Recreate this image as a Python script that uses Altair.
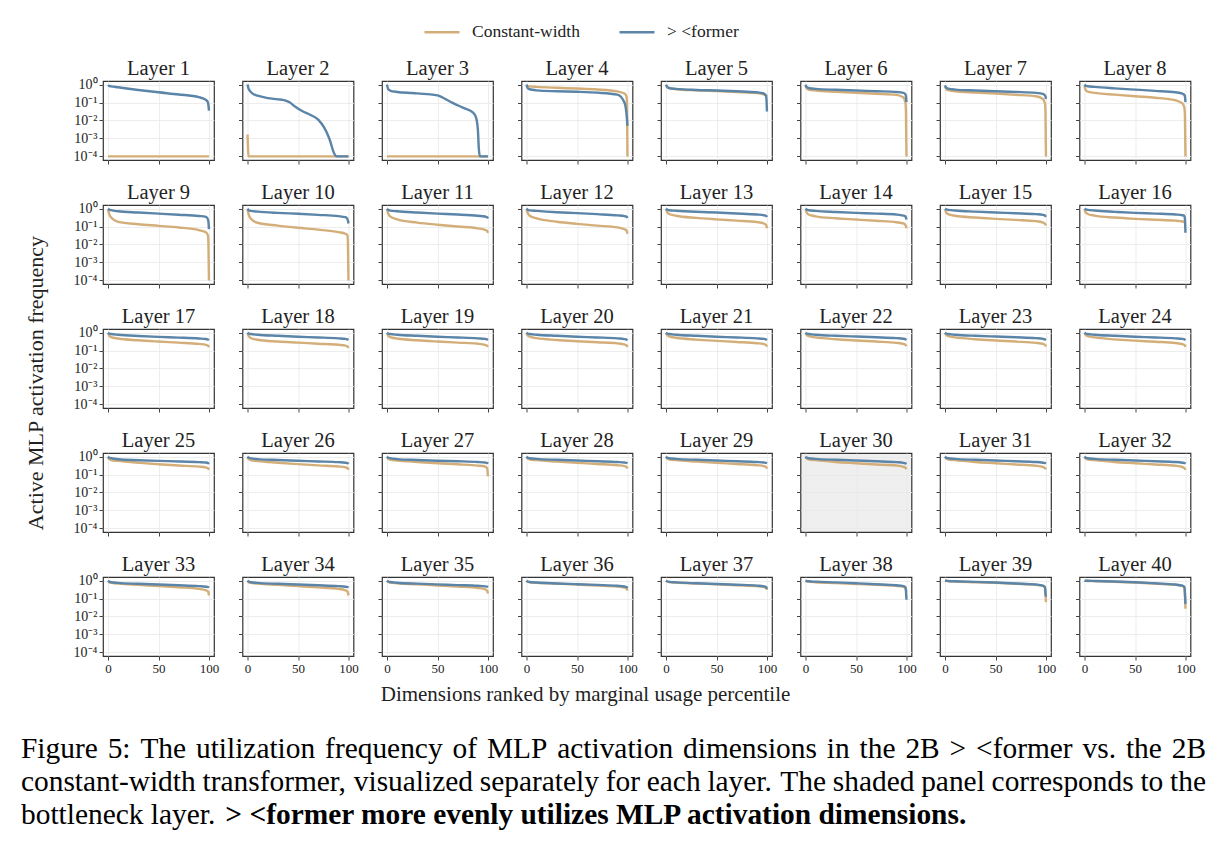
import altair as alt
import pandas as pd

FONT = "Liberation Serif"
SERIES = ["Constant-width", "> <former"]
COLORS = ["#d4ae79", "#5a84a8"]

# Percentile positions at which each ranked-usage curve is sampled
PCT = [0, 1, 3, 10, 30, 50, 70, 90, 97, 99, 99.5, 100]
PCT_BY_LAYER = {
    2: [0, 1, 2, 5, 10, 20, 30, 37, 42, 47, 55, 62, 70, 76, 81, 86, 88, 100],
    3: [0, 1, 3, 10, 25, 40, 50, 55, 65, 75, 85, 88, 90, 91, 92, 100],
}

# log10 of the active-frequency of each ranked MLP dimension (floored at 1e-4)
CONSTANT_WIDTH_LOG10 = {
    1: [-4, -4, -4, -4, -4, -4, -4, -4, -4, -4, -4, -4],
    2: [-2.78, -4, -4, -4, -4, -4, -4, -4, -4, -4, -4, -4, -4, -4, -4, -4, -4, -4],
    3: [-4, -4, -4, -4, -4, -4, -4, -4, -4, -4, -4, -4, -4, -4, -4, -4],
    4: [-0.04, -0.07, -0.1, -0.13, -0.18, -0.22, -0.27, -0.38, -0.5, -0.65, -1.0, -4],
    5: [-0.02, -0.13, -0.2, -0.26, -0.32, -0.36, -0.41, -0.47, -0.55, -0.6, -0.62, -0.65],
    6: [-0.06, -0.2, -0.28, -0.33, -0.4, -0.46, -0.51, -0.57, -0.72, -1.0, -1.5, -4],
    7: [-0.09, -0.23, -0.31, -0.37, -0.44, -0.5, -0.57, -0.65, -0.8, -1.05, -1.5, -4],
    8: [-0.06, -0.3, -0.39, -0.46, -0.56, -0.65, -0.73, -0.87, -1.05, -1.3, -1.8, -4],
    9: [-0.06, -0.28, -0.5, -0.74, -0.87, -0.96, -1.05, -1.2, -1.32, -1.5, -2.0, -4],
    10: [-0.06, -0.3, -0.55, -0.79, -0.95, -1.07, -1.17, -1.31, -1.4, -1.48, -2.0, -4],
    11: [-0.05, -0.25, -0.43, -0.6, -0.78, -0.9, -1.0, -1.1, -1.18, -1.24, -1.28, -1.35],
    12: [-0.05, -0.22, -0.4, -0.55, -0.73, -0.85, -0.95, -1.05, -1.15, -1.22, -1.27, -1.4],
    13: [-0.05, -0.18, -0.3, -0.4, -0.52, -0.6, -0.67, -0.75, -0.83, -0.9, -0.97, -1.1],
    14: [-0.06, -0.2, -0.33, -0.43, -0.54, -0.61, -0.68, -0.76, -0.83, -0.92, -0.98, -1.09],
    15: [-0.06, -0.2, -0.31, -0.4, -0.5, -0.57, -0.63, -0.7, -0.78, -0.85, -0.89, -0.94],
    16: [-0.06, -0.2, -0.3, -0.39, -0.5, -0.57, -0.62, -0.67, -0.72, -0.75, -0.77, -0.78],
    17: [-0.04, -0.15, -0.25, -0.33, -0.43, -0.5, -0.56, -0.63, -0.68, -0.73, -0.76, -0.82],
    18: [-0.04, -0.18, -0.3, -0.4, -0.5, -0.56, -0.62, -0.68, -0.73, -0.78, -0.8, -0.85],
    19: [-0.04, -0.15, -0.25, -0.33, -0.43, -0.5, -0.56, -0.62, -0.68, -0.73, -0.76, -0.8],
    20: [-0.04, -0.14, -0.23, -0.31, -0.41, -0.48, -0.54, -0.6, -0.66, -0.71, -0.74, -0.8],
    21: [-0.03, -0.13, -0.21, -0.29, -0.39, -0.46, -0.52, -0.59, -0.64, -0.69, -0.72, -0.78],
    22: [-0.03, -0.12, -0.2, -0.27, -0.37, -0.44, -0.5, -0.57, -0.63, -0.68, -0.71, -0.76],
    23: [-0.03, -0.12, -0.2, -0.27, -0.37, -0.44, -0.5, -0.57, -0.63, -0.69, -0.72, -0.78],
    24: [-0.03, -0.12, -0.2, -0.27, -0.38, -0.45, -0.51, -0.58, -0.64, -0.7, -0.73, -0.8],
    25: [-0.04, -0.13, -0.19, -0.24, -0.34, -0.43, -0.5, -0.56, -0.61, -0.65, -0.68, -0.74],
    26: [-0.04, -0.13, -0.19, -0.25, -0.34, -0.42, -0.49, -0.55, -0.6, -0.64, -0.67, -0.74],
    27: [-0.03, -0.11, -0.17, -0.22, -0.3, -0.37, -0.43, -0.5, -0.55, -0.62, -0.75, -1.1],
    28: [-0.03, -0.1, -0.15, -0.2, -0.28, -0.35, -0.41, -0.48, -0.53, -0.58, -0.61, -0.66],
    29: [-0.03, -0.1, -0.15, -0.2, -0.28, -0.35, -0.41, -0.48, -0.53, -0.58, -0.61, -0.67],
    30: [-0.02, -0.1, -0.15, -0.2, -0.3, -0.37, -0.44, -0.5, -0.57, -0.62, -0.65, -0.7],
    31: [-0.02, -0.1, -0.15, -0.2, -0.3, -0.37, -0.44, -0.51, -0.58, -0.64, -0.67, -0.72],
    32: [-0.02, -0.1, -0.15, -0.2, -0.3, -0.37, -0.44, -0.51, -0.58, -0.65, -0.68, -0.74],
    33: [-0.02, -0.08, -0.13, -0.17, -0.24, -0.3, -0.37, -0.46, -0.54, -0.61, -0.66, -0.83],
    34: [-0.02, -0.08, -0.13, -0.17, -0.24, -0.31, -0.38, -0.46, -0.54, -0.61, -0.67, -0.83],
    35: [-0.02, -0.07, -0.11, -0.15, -0.21, -0.27, -0.33, -0.41, -0.48, -0.55, -0.6, -0.72],
    36: [-0.01, -0.06, -0.09, -0.12, -0.17, -0.22, -0.27, -0.33, -0.39, -0.44, -0.48, -0.56],
    37: [-0.01, -0.05, -0.08, -0.11, -0.16, -0.21, -0.26, -0.31, -0.36, -0.41, -0.44, -0.52],
    38: [-0.02, -0.04, -0.06, -0.09, -0.14, -0.19, -0.24, -0.3, -0.35, -0.4, -0.5, -0.58],
    39: [0, -0.01, -0.03, -0.05, -0.09, -0.13, -0.18, -0.24, -0.3, -0.39, -0.7, -1.2],
    40: [0, -0.01, -0.02, -0.03, -0.07, -0.11, -0.17, -0.24, -0.3, -0.39, -0.74, -1.57],
}

FORMER_LOG10 = {
    1: [-0.02, -0.07, -0.1, -0.15, -0.3, -0.43, -0.55, -0.7, -0.85, -1.0, -1.15, -1.45],
    2: [0, -0.22, -0.32, -0.5, -0.62, -0.75, -0.82, -0.88, -1.0, -1.22, -1.5, -1.68, -1.95, -2.4, -3.0, -3.85, -4, -4],
    3: [0, -0.24, -0.33, -0.41, -0.47, -0.53, -0.6, -0.72, -1.02, -1.28, -1.55, -1.8, -2.5, -3.6, -4, -4],
    4: [0, -0.18, -0.26, -0.32, -0.37, -0.4, -0.45, -0.56, -1.0, -1.6, -1.9, -2.3],
    5: [0, -0.12, -0.19, -0.24, -0.3, -0.33, -0.37, -0.43, -0.5, -0.62, -0.8, -1.5],
    6: [0, -0.13, -0.19, -0.24, -0.29, -0.33, -0.37, -0.41, -0.46, -0.55, -0.65, -0.98],
    7: [-0.04, -0.16, -0.22, -0.28, -0.33, -0.37, -0.41, -0.46, -0.52, -0.6, -0.66, -0.8],
    8: [0, -0.06, -0.09, -0.13, -0.21, -0.28, -0.35, -0.43, -0.5, -0.58, -0.66, -0.98],
    9: [0, -0.05, -0.09, -0.15, -0.22, -0.28, -0.34, -0.41, -0.46, -0.6, -0.75, -1.14],
    10: [0, -0.08, -0.13, -0.17, -0.24, -0.29, -0.35, -0.42, -0.48, -0.58, -0.68, -0.83],
    11: [0, -0.07, -0.11, -0.15, -0.22, -0.28, -0.33, -0.4, -0.44, -0.48, -0.5, -0.55],
    12: [0, -0.06, -0.1, -0.13, -0.2, -0.25, -0.31, -0.38, -0.42, -0.45, -0.47, -0.52],
    13: [0, -0.06, -0.09, -0.12, -0.18, -0.22, -0.27, -0.33, -0.37, -0.4, -0.42, -0.47],
    14: [0, -0.05, -0.09, -0.13, -0.19, -0.24, -0.28, -0.33, -0.39, -0.44, -0.5, -0.61],
    15: [0, -0.04, -0.07, -0.11, -0.17, -0.22, -0.26, -0.31, -0.35, -0.39, -0.42, -0.46],
    16: [0, -0.04, -0.07, -0.11, -0.18, -0.24, -0.28, -0.33, -0.37, -0.41, -0.6, -1.35],
    17: [0, -0.05, -0.08, -0.12, -0.19, -0.24, -0.28, -0.33, -0.36, -0.39, -0.4, -0.42],
    18: [0, -0.05, -0.08, -0.12, -0.18, -0.23, -0.27, -0.32, -0.35, -0.38, -0.39, -0.41],
    19: [0, -0.05, -0.08, -0.12, -0.18, -0.23, -0.27, -0.32, -0.35, -0.38, -0.4, -0.42],
    20: [0, -0.05, -0.08, -0.12, -0.18, -0.23, -0.27, -0.32, -0.36, -0.39, -0.41, -0.43],
    21: [0, -0.05, -0.08, -0.12, -0.18, -0.23, -0.27, -0.32, -0.35, -0.38, -0.4, -0.42],
    22: [0, -0.05, -0.08, -0.12, -0.18, -0.22, -0.26, -0.31, -0.34, -0.37, -0.39, -0.41],
    23: [0, -0.05, -0.08, -0.12, -0.18, -0.22, -0.26, -0.31, -0.35, -0.38, -0.4, -0.42],
    24: [0, -0.05, -0.08, -0.12, -0.18, -0.23, -0.27, -0.32, -0.35, -0.38, -0.4, -0.42],
    25: [0, -0.06, -0.09, -0.15, -0.2, -0.24, -0.27, -0.31, -0.33, -0.36, -0.38, -0.41],
    26: [0, -0.06, -0.09, -0.14, -0.19, -0.23, -0.27, -0.31, -0.34, -0.36, -0.38, -0.41],
    27: [0, -0.06, -0.09, -0.14, -0.19, -0.23, -0.26, -0.3, -0.33, -0.35, -0.37, -0.4],
    28: [0, -0.06, -0.09, -0.13, -0.18, -0.22, -0.26, -0.3, -0.33, -0.35, -0.36, -0.38],
    29: [0, -0.06, -0.09, -0.13, -0.18, -0.22, -0.26, -0.3, -0.33, -0.35, -0.36, -0.38],
    30: [0, -0.06, -0.09, -0.13, -0.18, -0.22, -0.26, -0.31, -0.35, -0.38, -0.39, -0.41],
    31: [0, -0.06, -0.09, -0.13, -0.18, -0.22, -0.26, -0.3, -0.34, -0.36, -0.37, -0.39],
    32: [0, -0.06, -0.09, -0.13, -0.18, -0.22, -0.26, -0.3, -0.34, -0.36, -0.37, -0.4],
    33: [0, -0.05, -0.09, -0.13, -0.18, -0.22, -0.26, -0.31, -0.34, -0.36, -0.37, -0.39],
    34: [0, -0.05, -0.09, -0.13, -0.18, -0.22, -0.26, -0.31, -0.34, -0.36, -0.37, -0.39],
    35: [0, -0.05, -0.08, -0.12, -0.17, -0.21, -0.25, -0.29, -0.32, -0.34, -0.35, -0.37],
    36: [0, -0.05, -0.08, -0.11, -0.16, -0.2, -0.24, -0.29, -0.33, -0.36, -0.38, -0.42],
    37: [0, -0.04, -0.07, -0.1, -0.15, -0.19, -0.23, -0.28, -0.32, -0.36, -0.39, -0.46],
    38: [0, -0.02, -0.04, -0.06, -0.1, -0.15, -0.2, -0.26, -0.31, -0.37, -0.56, -1.07],
    39: [0, -0.01, -0.02, -0.04, -0.07, -0.11, -0.16, -0.22, -0.28, -0.37, -0.65, -0.89],
    40: [0, -0.01, -0.01, -0.02, -0.05, -0.09, -0.15, -0.22, -0.28, -0.37, -0.74, -1.3],
}

BOTTLENECK_LAYER = 30
Y_TITLE_LAYER = 17
X_TITLE_LAYER = 36
CAPTION_LAYER = 33
Y_TITLE = "Active MLP activation frequency"
X_TITLE = "Dimensions ranked by marginal usage percentile"

# Caption: two justified lines, then a last line with a bold sentence
CAPTION_JUSTIFIED = [
    "Figure 5: The utilization frequency of MLP activation dimensions in the 2B > <former vs. the 2B",
    "constant-width transformer, visualized separately for each layer. The shaded panel corresponds to the",
]
CAPTION_LAST = "bottleneck layer."
CAPTION_BOLD = "> <former more evenly utilizes MLP activation dimensions."

rows = []
for layer in range(1, 41):
    pct = PCT_BY_LAYER.get(layer, PCT)
    for name, table in ((SERIES[0], CONSTANT_WIDTH_LOG10), (SERIES[1], FORMER_LOG10)):
        for p, e in zip(pct, table[layer]):
            rows.append({"layer": layer, "series": name, "pct": p, "freq": 10 ** e})
df = pd.DataFrame(rows)

# ---- caption typesetting (Times advance widths, 1/1000 em) ----
CAP_SIZE = 29.4
CAP_LEFT, CAP_RIGHT = -82, 1103        # relative to the bottom-left panel
CAP_BASE, CAP_LEAD = 181, 33
_REG = dict(zip("abcdefghijklmnopqrstuvwxyz",
                [444, 500, 444, 500, 444, 333, 500, 500, 278, 278, 500, 278, 778,
                 500, 500, 500, 500, 333, 389, 278, 500, 500, 722, 500, 500, 444]))
_REG.update(dict(zip("ABCDEFGHIJKLMNOPQRSTUVWXYZ",
                     [722, 667, 667, 722, 611, 556, 722, 722, 333, 389, 722, 611, 889,
                      722, 722, 556, 722, 667, 556, 611, 722, 722, 944, 722, 722, 611])))
_REG.update({d: 500 for d in "0123456789"})
_REG.update({" ": 250, ":": 278, ".": 250, ",": 250, "-": 333, ">": 564, "<": 564})


def text_width(s):
    return sum(_REG.get(ch, 500) for ch in s) / 1000 * CAP_SIZE


word_rows = []
for k, line in enumerate(CAPTION_JUSTIFIED):
    words = line.split(" ")
    natural = sum(text_width(w) for w in words)
    gap = (CAP_RIGHT - CAP_LEFT - natural) / (len(words) - 1)
    x = CAP_LEFT
    for w in words:
        word_rows.append({"t": w, "x": x, "y": CAP_BASE + CAP_LEAD * k})
        x += text_width(w) + gap
caption_words = pd.DataFrame(word_rows)
bold_x = CAP_LEFT + text_width(CAPTION_LAST + " ") + 1

PW, PH = 111, 79
X_DOMAIN = [-5, 105]
Y_DOMAIN = [10 ** -4.2, 10 ** 0.2]
Y_TICKS = [1e-4, 1e-3, 1e-2, 1e-1, 1]
SUP_EXPR = "'10' + ['⁰','⁻¹','⁻²','⁻³','⁻⁴'][round(-log(datum.value) / LN10)]"

legend = alt.Legend(
    title=None, orient="none", legendX=320, legendY=-68, direction="horizontal",
    symbolType="stroke", symbolSize=1225, symbolStrokeWidth=2.5,
    labelFont=FONT, labelFontSize=17.5, labelColor="#222", labelOffset=11,
    columnPadding=34,
)


def label(text, **kw):
    """A single piece of text placed in panel pixel space."""
    style = dict(font=FONT, color="#222")
    style.update({k: v for k, v in kw.items() if k not in ("px", "py")})
    return alt.Chart(alt.InlineData(values=[{"t": text}])).mark_text(**style).encode(
        x=alt.value(kw["px"]), y=alt.value(kw["py"]), text="t:N"
    )


def panel(layer):
    r, c = divmod(layer - 1, 8)
    x_kw = dict(values=[0, 50, 100], labels=(r == 4), title=None)
    y_kw = dict(values=Y_TICKS, labels=(c == 0), labelExpr=SUP_EXPR, labelFontSize=14, title=None)
    if layer == X_TITLE_LAYER:
        x_kw.update(title=X_TITLE, titleX=63.5, titleY=38, titleAlign="center", titleBaseline="middle")
    base = alt.Chart().mark_line(strokeWidth=2.4, interpolate="monotone").encode(
        x=alt.X("pct:Q", scale=alt.Scale(domain=X_DOMAIN, nice=False, zero=False), axis=alt.Axis(**x_kw)),
        y=alt.Y("freq:Q", scale=alt.Scale(type="log", domain=Y_DOMAIN, nice=False), axis=alt.Axis(**y_kw)),
        color=alt.Color("series:N", scale=alt.Scale(domain=SERIES, range=COLORS), legend=legend),
    )
    layers = [
        base.transform_filter(f"datum.layer == {layer} && datum.series == '{SERIES[0]}'"),
        base.transform_filter(f"datum.layer == {layer} && datum.series == '{SERIES[1]}'"),
        label(f"Layer {layer}", px=PW / 2, py=-6.5, fontSize=20.5, align="center", baseline="alphabetic"),
    ]
    if layer == Y_TITLE_LAYER:
        layers.append(label(Y_TITLE, px=-67, py=54, fontSize=22, angle=270,
                            align="center", baseline="middle"))
    if layer == CAPTION_LAYER:
        layers.append(
            alt.Chart(caption_words).mark_text(
                align="left", baseline="alphabetic", font=FONT, fontSize=CAP_SIZE, color="#000"
            ).encode(x=alt.X("x:Q", scale=None), y=alt.Y("y:Q", scale=None), text="t:N")
        )
        layers.append(label(CAPTION_LAST, px=CAP_LEFT, py=CAP_BASE + 2 * CAP_LEAD,
                            fontSize=CAP_SIZE, color="#000", align="left", baseline="alphabetic"))
        layers.append(label(CAPTION_BOLD, px=bold_x, py=CAP_BASE + 2 * CAP_LEAD,
                            fontSize=CAP_SIZE, color="#000", fontWeight="bold",
                            align="left", baseline="alphabetic"))
    props = dict(width=PW, height=PH)
    if layer == BOTTLENECK_LAYER:
        props["view"] = alt.ViewBackground(fill="#efefef", stroke="#333", strokeWidth=1.2)
    return alt.layer(*layers).properties(**props)


chart = alt.concat(
    *[panel(i) for i in range(1, 41)],
    columns=8,
    spacing=alt.RowColnumber(row=45, column=28.5),
    bounds="flush",
    data=df,
).properties(
    padding={"left": 20, "top": 13, "right": 0, "bottom": 0},
    background="white",
).configure_view(
    stroke="#333", strokeWidth=1.2,
).configure_axis(
    domain=False, grid=True, gridColor="#e9e9e9", gridWidth=0.8,
    ticks=True, tickColor="#444", tickSize=4, tickWidth=1,
    labelFont=FONT, labelFontSize=13, labelColor="#222", labelPadding=2,
    titleFont=FONT, titleFontSize=21, titleFontWeight="normal", titleColor="#222",
)

chart.save("out.html", embed_options={"renderer": "svg", "actions": False})
